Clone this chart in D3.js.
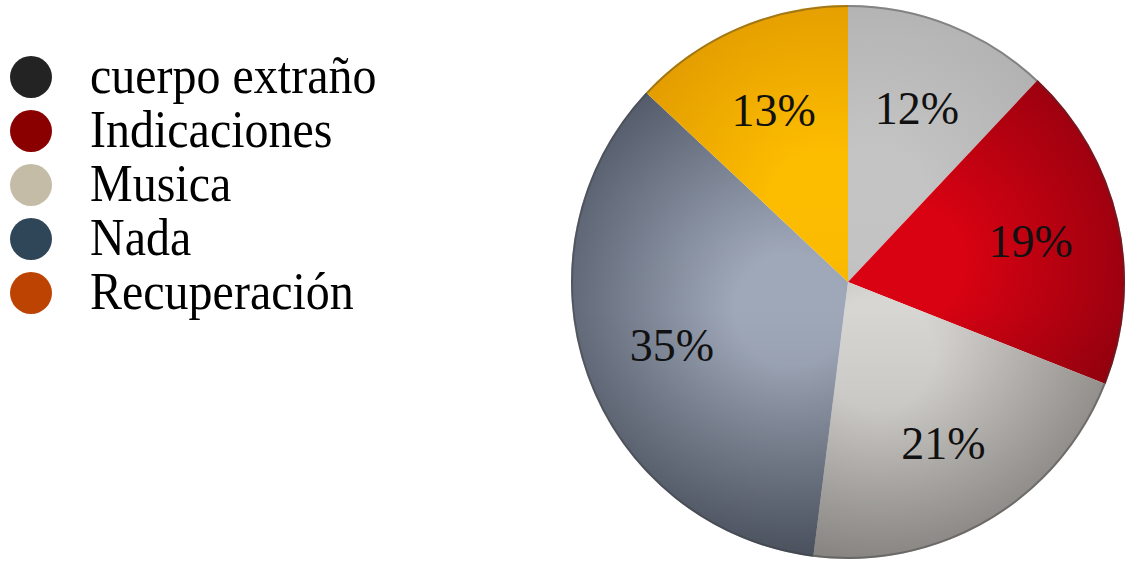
<!DOCTYPE html>
<html>
<head>
<meta charset="utf-8">
<script src="https://cdn.jsdelivr.net/npm/d3@7"></script>
<style>
  html, body { margin: 0; padding: 0; background: #fff; }
  svg { display: block; font-family: "Liberation Serif", "Times New Roman", serif; }
</style>
</head>
<body>
<svg id="chart" width="1125" height="561"></svg>
<script>
// Legend entries (as shown in the original legend)
const legendNames  = [ 'cuerpo extraño', 'Indicaciones', 'Musica', 'Nada', 'Recuperación' ];
const legendColors = [ '#232323', '#8a0000', '#c4bca6', '#2f4659', '#bd4303' ];

// Pie slices, clockwise from 12 o'clock
const sliceValues = [ 12, 19, 21, 35, 13 ];
const sliceInner  = [ '#c6c6c6', '#dc0212', '#dcdad6', '#a2abbc', '#ffbe00' ];
const sliceOuter  = [ '#aaaaaa', '#8a000e', '#8c8884', '#4e5665', '#d88f00' ];

const svg = d3.select( '#chart' );
const cx = 848, cy = 282, radius = 277;

// Gradients, one per slice (in the translated pie group's coordinates)
const defs = svg.append( 'defs' );
const pie  = d3.pie().sort( null ).value( d => d );
const arcs = pie( sliceValues );

arcs.forEach( ( a, i ) => {
  const mid = ( a.startAngle + a.endAngle ) / 2;
  const g = defs.append( 'radialGradient' )
    .attr( 'id', 'grad' + i )
    .attr( 'gradientUnits', 'userSpaceOnUse' )
    .attr( 'cx', Math.sin( mid ) * radius * 0.22 )
    .attr( 'cy', -Math.cos( mid ) * radius * 0.3 )
    .attr( 'r' , radius * 1.0 );
  g.append( 'stop' ).attr( 'offset', '0%'   ).attr( 'stop-color', sliceInner[i] );
  g.append( 'stop' ).attr( 'offset', '20%'  ).attr( 'stop-color', sliceInner[i] );
  g.append( 'stop' ).attr( 'offset', '100%' ).attr( 'stop-color', sliceOuter[i] );
} );

// Soft overall shading: lighter above, darker below
const shade = defs.append( 'linearGradient' )
  .attr( 'id', 'shade' )
  .attr( 'x1', 0 ).attr( 'y1', 0 ).attr( 'x2', 0 ).attr( 'y2', 1 );
shade.append( 'stop' ).attr( 'offset', '0%'   ).attr( 'stop-color', '#000' ).attr( 'stop-opacity', 0 );
shade.append( 'stop' ).attr( 'offset', '55%'  ).attr( 'stop-color', '#000' ).attr( 'stop-opacity', 0.02 );
shade.append( 'stop' ).attr( 'offset', '100%' ).attr( 'stop-color', '#000' ).attr( 'stop-opacity', 0.18 );

const arc = d3.arc().innerRadius( 0 ).outerRadius( radius );
const labelArc = d3.arc().innerRadius( radius * 0.676 ).outerRadius( radius * 0.676 );

const chart = svg.append( 'g' ).attr( 'transform', `translate(${cx},${cy})` );

chart.selectAll( 'path.slice' )
  .data( arcs )
  .enter()
  .append( 'path' )
    .attr( 'class', 'slice' )
    .attr( 'd', arc )
    .attr( 'fill', ( d, i ) => `url(#grad${i})` );

chart.append( 'circle' )
  .attr( 'r', radius )
  .attr( 'fill', 'url(#shade)' );

// Thin darker rim
chart.append( 'circle' )
  .attr( 'r', radius - 1 )
  .attr( 'fill', 'none' )
  .attr( 'stroke', '#3a3a3a' )
  .attr( 'stroke-opacity', 0.4 )
  .attr( 'stroke-width', 2 );

chart.selectAll( 'text.pct' )
  .data( arcs )
  .enter()
  .append( 'text' )
    .attr( 'class', 'pct' )
    .attr( 'transform', d => `translate(${labelArc.centroid( d )})` )
    .attr( 'text-anchor', 'middle' )
    .attr( 'dy', '0.34em' )
    .style( 'font-size', '46px' )
    .attr( 'fill', '#111' )
    .text( d => d.value + '%' );

// Legend
const legend = svg.append( 'g' ).attr( 'transform', 'translate(31,77)' );
const item = legend.selectAll( 'g' )
  .data( legendNames )
  .enter()
  .append( 'g' )
    .attr( 'transform', ( d, i ) => `translate(0,${i * 54})` );

item.append( 'circle' )
  .attr( 'r', 21 )
  .attr( 'fill', ( d, i ) => legendColors[i] );

item.append( 'text' )
  .attr( 'transform', 'translate(59,16) scale(1,1.12)' )
  .style( 'font-size', '48px' )
  .attr( 'fill', '#000' )
  .text( d => d );
</script>
</body>
</html>
